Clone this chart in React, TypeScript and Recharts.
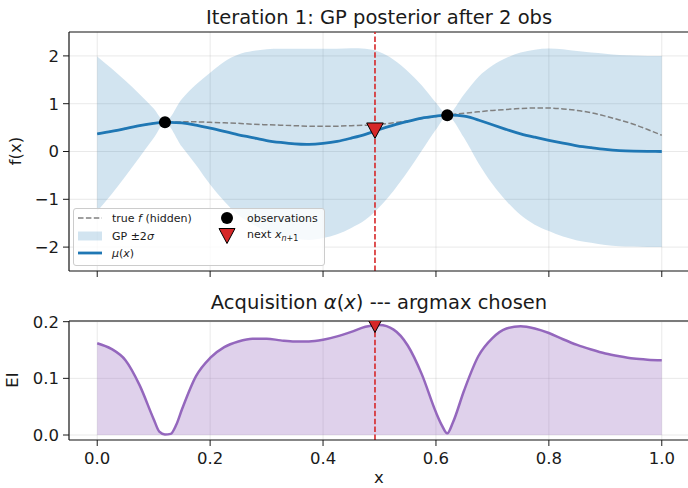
import React from 'react';
import { ComposedChart, Line, Area, Scatter, XAxis, YAxis, CartesianGrid, ReferenceLine } from 'recharts';

// GP posterior, sampled along x
const gpX = [0, 0.025, 0.05, 0.075, 0.1, 0.12, 0.15, 0.175, 0.2, 0.225, 0.25, 0.275, 0.3, 0.325, 0.35, 0.375, 0.4, 0.425, 0.45, 0.475, 0.5, 0.525, 0.55, 0.575, 0.6, 0.62, 0.65, 0.675, 0.7, 0.725, 0.75, 0.775, 0.8, 0.825, 0.85, 0.875, 0.9, 0.925, 0.95, 0.975, 1.0];
const muY = [0.37, 0.42, 0.48, 0.54, 0.59, 0.61, 0.6, 0.55, 0.49, 0.42, 0.35, 0.29, 0.23, 0.19, 0.16, 0.15, 0.17, 0.21, 0.28, 0.36, 0.46, 0.55, 0.63, 0.7, 0.74, 0.76, 0.74, 0.66, 0.56, 0.46, 0.37, 0.3, 0.235, 0.175, 0.12, 0.08, 0.045, 0.02, 0.008, 0.002, 0.0];
const trueY = [0.37, 0.42, 0.48, 0.54, 0.59, 0.61, 0.62, 0.62, 0.61, 0.6, 0.59, 0.57, 0.56, 0.55, 0.54, 0.53, 0.53, 0.53, 0.54, 0.55, 0.57, 0.6, 0.64, 0.69, 0.73, 0.76, 0.8, 0.83, 0.86, 0.88, 0.9, 0.91, 0.91, 0.89, 0.86, 0.81, 0.74, 0.66, 0.57, 0.46, 0.34];
const upperY = [1.99, 1.74, 1.48, 1.2, 0.9, 0.63, 1.1, 1.4, 1.65, 1.88, 2.03, 2.1, 2.14, 2.15, 2.15, 2.15, 2.15, 2.15, 2.16, 2.15, 2.08, 1.92, 1.68, 1.38, 1.02, 0.78, 1.2, 1.56, 1.8, 1.96, 2.07, 2.13, 2.155, 2.14, 2.1, 2.07, 2.045, 2.02, 2.01, 2.0, 2.0];
const lowerY = [-1.25, -0.9, -0.52, -0.12, 0.28, 0.59, 0.1, -0.28, -0.69, -1.04, -1.33, -1.52, -1.68, -1.77, -1.82, -1.85, -1.81, -1.73, -1.6, -1.43, -1.16, -0.82, -0.42, 0.02, 0.46, 0.74, 0.28, -0.24, -0.68, -1.04, -1.33, -1.53, -1.665, -1.78, -1.86, -1.91, -1.955, -1.98, -1.99, -2.0, -2.0];

const obsX = [0.12, 0.62];
const obsY = [0.61, 0.76];
const nextX = 0.492;
const nextY = 0.44;

// expected improvement
const eiX = [0, 0.025, 0.05, 0.075, 0.1, 0.11, 0.12, 0.13, 0.14, 0.15, 0.175, 0.2, 0.225, 0.25, 0.275, 0.3, 0.325, 0.35, 0.375, 0.4, 0.425, 0.45, 0.475, 0.5, 0.525, 0.55, 0.575, 0.6, 0.61, 0.62, 0.63, 0.65, 0.675, 0.7, 0.725, 0.75, 0.775, 0.8, 0.825, 0.85, 0.875, 0.9, 0.925, 0.95, 0.975, 1.0];
const eiY = [0.162, 0.152, 0.132, 0.088, 0.028, 0.006, 0.001, 0.002, 0.018, 0.045, 0.104, 0.136, 0.155, 0.165, 0.17, 0.17, 0.167, 0.165, 0.165, 0.168, 0.174, 0.182, 0.191, 0.194, 0.186, 0.158, 0.107, 0.04, 0.018, 0.003, 0.022, 0.079, 0.139, 0.171, 0.188, 0.192, 0.188, 0.18, 0.169, 0.159, 0.151, 0.144, 0.139, 0.135, 0.133, 0.132];
const eiNextY = 0.195;

const xTicks = [0, 0.2, 0.4, 0.6, 0.8, 1.0];
const fTicks = [-2, -1, 0, 1, 2];
const eiTicks = [0, 0.1, 0.2];

const gpData = gpX.map((x, i) => ({ x, mu: muY[i], truth: trueY[i], band: [lowerY[i], upperY[i]] }));
const obsData = obsX.map((x, i) => ({ x, y: obsY[i] }));
const nextData = [{ x: nextX, y: nextY }];
const eiData = eiX.map((x, i) => ({ x, ei: eiY[i] }));
const eiNextData = [{ x: nextX, y: eiNextY }];

const FONT = '"DejaVu Sans", Verdana, sans-serif';
const INK = '#1a1a1a';
const BLUE = '#1f77b4';
const RED = '#d62728';
const PURPLE = '#9467bd';
const tickStyle = { fontSize: 16.5, fill: INK, fontFamily: FONT };
const fmtMinus = (v: number) => (v < 0 ? `\u2212${Math.abs(v)}` : `${v}`);

const Dot = (p: any) => <circle cx={p.cx} cy={p.cy} r={6} fill="#000" />;
const DownTri = (p: any) => (
  <polygon
    points={`${p.cx - 8.3},${p.cy - 7.5} ${p.cx + 8.3},${p.cy - 7.5} ${p.cx},${p.cy + 8}`}
    fill={RED}
    stroke="#000"
    strokeWidth={1}
  />
);
const ClippedTri = (p: any) => (
  <g>
    <defs>
      <clipPath id="eiTop">
        <rect x={0} y={31} width={700} height={200} />
      </clipPath>
    </defs>
    <g clipPath="url(#eiTop)">
      <DownTri cx={p.cx} cy={p.cy} />
    </g>
  </g>
);

function Legend() {
  const row = (top: number): React.CSSProperties => ({ position: 'absolute', top, height: 14, display: 'flex', alignItems: 'center' });
  return (
    <div style={{ position: 'absolute', left: 73, top: 208, width: 252, height: 58, background: 'rgba(255,255,255,0.8)', border: '1px solid #cccccc', borderRadius: 3, boxSizing: 'border-box', fontSize: 11, color: INK, fontFamily: FONT }}>
      <div style={{ ...row(2), left: 4 }}>
        <svg width={24} height={14}><line x1={0} y1={7} x2={24} y2={7} stroke="#808080" strokeWidth={1.5} strokeDasharray="5.5 2.4" /></svg>
        <span style={{ marginLeft: 10 }}>true <i>f</i> (hidden)</span>
      </div>
      <div style={{ ...row(20), left: 4 }}>
        <svg width={24} height={14}><rect x={0} y={2.5} width={24} height={9} fill={BLUE} fillOpacity={0.2} /></svg>
        <span style={{ marginLeft: 10 }}>GP ±2<i>σ</i></span>
      </div>
      <div style={{ ...row(37), left: 4 }}>
        <svg width={24} height={14}><line x1={0} y1={7} x2={24} y2={7} stroke={BLUE} strokeWidth={2.8} /></svg>
        <span style={{ marginLeft: 10 }}><i>μ</i>(<i>x</i>)</span>
      </div>
      <div style={{ ...row(2), left: 143 }}>
        <svg width={20} height={14}><circle cx={10} cy={7} r={6} fill="#000" /></svg>
        <span style={{ marginLeft: 10 }}>observations</span>
      </div>
      <div style={{ ...row(20), left: 143 }}>
        <svg width={20} height={18}><polygon points="2,1.5 18,1.5 10,16.5" fill={RED} stroke="#000" strokeWidth={1} /></svg>
        <span style={{ marginLeft: 10 }}>next <i>x</i><sub style={{ fontSize: 8 }}><i>n</i>+1</sub></span>
      </div>
    </div>
  );
}

export default function App() {
  return (
    <div style={{ position: 'absolute', left: 0, top: 0, width: 688, height: 488, overflow: 'hidden', background: '#fff', fontFamily: FONT }}>
      {/* top panel: GP posterior */}
      <div style={{ position: 'absolute', left: 0, top: 0 }}>
        <ComposedChart width={692} height={281} data={gpData} margin={{ top: 32, right: 2, bottom: 0, left: 0 }}>
          <CartesianGrid stroke="#b0b0b0" strokeOpacity={0.35} strokeWidth={0.8} />
          <XAxis dataKey="x" type="number" domain={[-0.05, 1.05]} ticks={xTicks} height={10} tickSize={6} tickFormatter={() => ''} axisLine={{ stroke: INK, strokeWidth: 1.2 }} tickLine={{ stroke: INK }} />
          <YAxis type="number" domain={[-2.5, 2.5]} ticks={fTicks} width={69} tickSize={6} tickMargin={4} tick={tickStyle} tickFormatter={fmtMinus} axisLine={{ stroke: INK, strokeWidth: 1.2 }} tickLine={{ stroke: INK }} />
          <ReferenceLine y={2.5} stroke={INK} strokeWidth={1.2} />
          <Area type="monotone" dataKey="band" fill={BLUE} fillOpacity={0.2} stroke="none" isAnimationActive={false} />
          <Line type="natural" dataKey="truth" stroke="#808080" strokeWidth={1.5} strokeDasharray="5.5 2.4" dot={false} isAnimationActive={false} />
          <Line type="natural" dataKey="mu" stroke={BLUE} strokeWidth={2.8} dot={false} isAnimationActive={false} />
          <Scatter data={obsData} dataKey="y" shape={Dot} isAnimationActive={false} />
          <ReferenceLine x={nextX} stroke={RED} strokeWidth={1.6} strokeDasharray="5.5 2.4" />
          <Scatter data={nextData} dataKey="y" shape={DownTri} isAnimationActive={false} />
        </ComposedChart>
      </div>

      {/* bottom panel: acquisition */}
      <div style={{ position: 'absolute', left: 0, top: 290 }}>
        <ComposedChart width={692} height={198} data={eiData} margin={{ top: 31, right: 2, bottom: 0, left: 0 }}>
          <CartesianGrid stroke="#b0b0b0" strokeOpacity={0.35} strokeWidth={0.8} />
          <XAxis dataKey="x" type="number" domain={[-0.05, 1.05]} ticks={xTicks} height={48} tickSize={6} tickMargin={6} tick={tickStyle} tickFormatter={(v: number) => v.toFixed(1)} axisLine={{ stroke: INK, strokeWidth: 1.2 }} tickLine={{ stroke: INK }} />
          <YAxis type="number" domain={[-0.0088, 0.2012]} ticks={eiTicks} width={69} tickSize={6} tickMargin={4} tick={tickStyle} tickFormatter={(v: number) => v.toFixed(1)} axisLine={{ stroke: INK, strokeWidth: 1.2 }} tickLine={{ stroke: INK }} />
          <ReferenceLine y={0.2012} stroke="#7a7a7a" strokeWidth={2} />
          <Area type="monotone" dataKey="ei" fill={PURPLE} fillOpacity={0.3} stroke={PURPLE} strokeWidth={2.5} baseValue={0} isAnimationActive={false} />
          <ReferenceLine x={nextX} stroke={RED} strokeWidth={1.6} strokeDasharray="5.5 2.4" />
          <Scatter data={eiNextData} dataKey="y" shape={ClippedTri} isAnimationActive={false} />
        </ComposedChart>
      </div>

      <Legend />

      {/* titles and axis labels */}
      <svg width={688} height={488} style={{ position: 'absolute', left: 0, top: 0, pointerEvents: 'none' }}>
        <text x={379} y={24} textAnchor="middle" fontSize={19.5} fill={INK} fontFamily={FONT}>Iteration 1: GP posterior after 2 obs</text>
        <text x={379} y={309} textAnchor="middle" fontSize={19.5} fill={INK} fontFamily={FONT}>
          Acquisition <tspan fontStyle="italic">α</tspan>(<tspan fontStyle="italic">x</tspan>) --- argmax chosen
        </text>
        <text x={379} y={483} textAnchor="middle" fontSize={16.5} fill={INK} fontFamily={FONT}>x</text>
        <text transform="translate(21,151) rotate(-90)" textAnchor="middle" fontSize={16.5} fill={INK} fontFamily={FONT}>f(x)</text>
        <text transform="translate(18,380) rotate(-90)" textAnchor="middle" fontSize={16.5} fill={INK} fontFamily={FONT}>EI</text>
      </svg>
    </div>
  );
}
